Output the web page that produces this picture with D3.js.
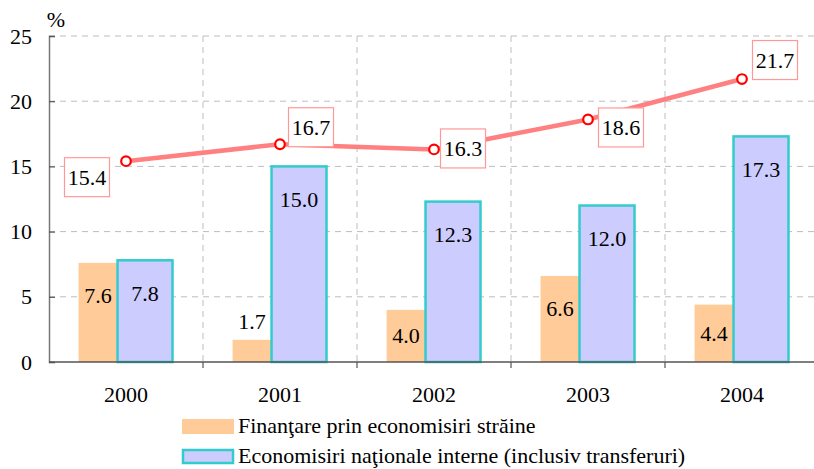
<!DOCTYPE html>
<html><head><meta charset="utf-8">
<script src="https://cdn.jsdelivr.net/npm/d3@7"></script>
<style>
body{margin:0;background:#fff;}
svg{display:block;font-family:"Liberation Serif","Times New Roman",serif;}
</style></head>
<body>
<svg id="c" width="814" height="469"></svg>
<script>
const years = ["2000","2001","2002","2003","2004"];
const foreign = [7.6, 1.7, 4.0, 6.6, 4.4];
const national = [7.8, 15.0, 12.3, 12.0, 17.3];
const total = [15.4, 16.7, 16.3, 18.6, 21.7];
const yTicks = [0, 5, 10, 15, 20, 25];
const seriesNames = ["Finanţare prin economisiri străine", "Economisiri naţionale interne (inclusiv transferuri)"];

// layout (not data)
const lineLabelOffsets = [[-39,16],[31,-17],[29,-1],[33,8],[33,-19]];

const svg = d3.select("#c");
const L = 49, B = 362, T = 36;
const x = d3.scaleBand().domain(years).range([L, L + 5*154]);
const y = d3.scaleLinear().domain([0,25]).range([B, T]);
const bw = x.bandwidth();
const cx = d => x(d) + bw/2;
const fs = 22;
const FF = "Liberation Serif";

// horizontal gridlines
svg.append("g").selectAll("line").data(yTicks.filter(t=>t>0)).join("line")
  .attr("x1", L).attr("x2", 814).attr("y1", d=>y(d)).attr("y2", d=>y(d))
  .attr("stroke", "#bdbdbd").attr("stroke-width", 1).attr("stroke-dasharray", "6,5");
// vertical gridlines at band boundaries
svg.append("g").selectAll("line").data(years.slice(1)).join("line")
  .attr("x1", d=>x(d)).attr("x2", d=>x(d)).attr("y1", T).attr("y2", B)
  .attr("stroke", "#bdbdbd").attr("stroke-width", 1).attr("stroke-dasharray", "6,5");

// bars
const oL = -0.308*bw, split = -0.055*bw, bR = 0.302*bw;
svg.append("g").selectAll("rect").data(years).join("rect")
  .attr("x", d=>cx(d)+oL).attr("width", split-oL)
  .attr("y", (d,i)=>y(foreign[i])).attr("height", (d,i)=>B-y(foreign[i]))
  .attr("fill", "#ffcc99");
svg.append("g").selectAll("rect").data(years).join("rect")
  .attr("x", d=>cx(d)+split).attr("width", bR-split)
  .attr("y", (d,i)=>y(national[i])).attr("height", (d,i)=>B-y(national[i]))
  .attr("fill", "#ccccff").attr("stroke", "#33cccc").attr("stroke-width", 2.5);

// axes
const yAxis = d3.axisLeft(y).tickValues(yTicks).tickSize(-6).tickPadding(17).tickFormat(d3.format("d"));
const gy = svg.append("g").attr("transform", `translate(${L},0)`).call(yAxis);
gy.attr("font-family", FF).attr("font-size", fs);
gy.select(".domain").attr("stroke", "#777").attr("stroke-width", 1.5);
gy.selectAll(".tick line").attr("stroke", "#555").attr("stroke-width", 1.2);
gy.selectAll("text").attr("fill", "#000");

svg.append("line").attr("x1", L).attr("x2", 814).attr("y1", B).attr("y2", B)
  .attr("stroke", "#555").attr("stroke-width", 1.5);
svg.append("g").selectAll("line").data(years.slice(1)).join("line")
  .attr("x1", d=>x(d)).attr("x2", d=>x(d)).attr("y1", B).attr("y2", B+6)
  .attr("stroke", "#555").attr("stroke-width", 1.2);
svg.append("g").selectAll("text").data(years).join("text")
  .attr("x", d=>cx(d)).attr("y", B+40).attr("text-anchor", "middle")
  .attr("font-size", fs).text(d=>d);

svg.append("text").attr("x", 56).attr("y", 27).attr("text-anchor", "middle").attr("font-size", fs).text("%");

// bar labels
const labY = (v) => { const top = y(v), h = B - top; return top + Math.min(33, h/2) + 7.5; };
svg.append("g").selectAll("text").data(years).join("text")
  .attr("x", d=>cx(d)+(oL+split)/2)
  .attr("y", (d,i)=> foreign[i] < 3 ? y(foreign[i]) - 11 : labY(foreign[i]))
  .attr("text-anchor", "middle").attr("font-size", fs).text((d,i)=>foreign[i].toFixed(1));
svg.append("g").selectAll("text").data(years).join("text")
  .attr("x", d=>cx(d)+(split+bR)/2)
  .attr("y", (d,i)=> labY(national[i]))
  .attr("text-anchor", "middle").attr("font-size", fs).text((d,i)=>national[i].toFixed(1));

// line
const line = d3.line().x((d,i)=>cx(years[i])).y(d=>y(d));
svg.append("path").datum(total).attr("d", line).attr("fill", "none")
  .attr("stroke", "#ff8080").attr("stroke-width", 4.5);
svg.append("g").selectAll("circle").data(total).join("circle")
  .attr("cx", (d,i)=>cx(years[i])).attr("cy", d=>y(d)).attr("r", 4.8)
  .attr("fill", "#fff").attr("stroke", "#ff0000").attr("stroke-width", 2.2);

// line labels
const lg = svg.append("g").selectAll("g").data(total).join("g")
  .attr("transform", (d,i)=>`translate(${cx(years[i])+lineLabelOffsets[i][0]},${y(d)+lineLabelOffsets[i][1]})`);
lg.append("rect").attr("x", -22.5).attr("y", -19.5).attr("width", 45).attr("height", 39)
  .attr("fill", "#fff").attr("stroke", "#ff9999").attr("stroke-width", 1.2);
lg.append("text").attr("text-anchor", "middle").attr("y", 7.5).attr("font-size", fs).text(d=>d.toFixed(1));

// legend
const leg = svg.append("g");
leg.append("rect").attr("x", 182).attr("y", 419).attr("width", 52).attr("height", 15).attr("fill", "#ffcc99");
leg.append("rect").attr("x", 183).attr("y", 450).attr("width", 50).attr("height", 13)
  .attr("fill", "#ccccff").attr("stroke", "#33cccc").attr("stroke-width", 2.5);
leg.append("text").attr("x", 238).attr("y", 433).attr("font-size", fs).text(seriesNames[0]);
leg.append("text").attr("x", 238).attr("y", 463).attr("font-size", fs).text(seriesNames[1]);
</script>
</body></html>
